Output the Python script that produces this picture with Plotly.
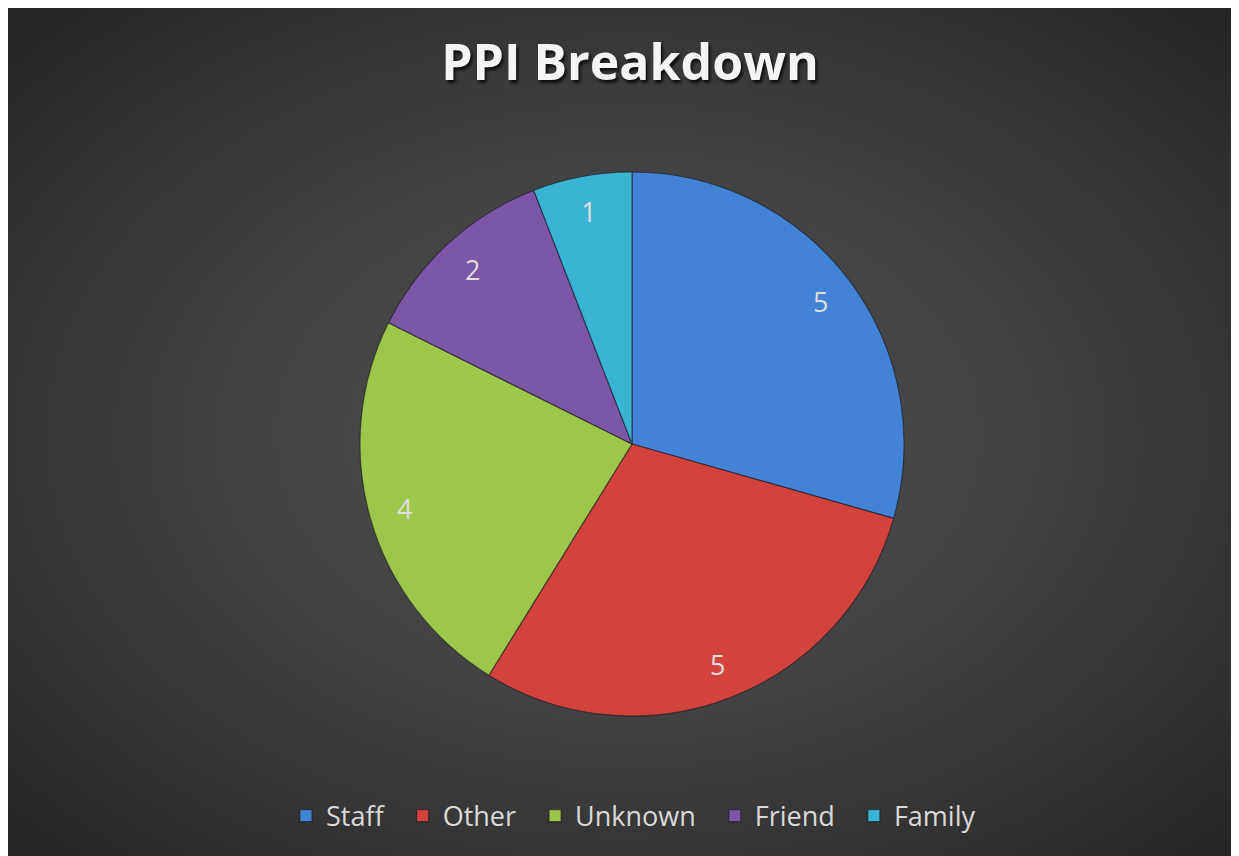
import base64
import numpy as np
import plotly.graph_objects as go

# ---- data ----
categories = ["Staff", "Other", "Unknown", "Friend", "Family"]
values = [5, 5, 4, 2, 1]
title_text = "PPI Breakdown"

# ---- styling ----
W, H = 1239, 856
colors = ["#4383d6", "#d3433e", "#9ec64c", "#7c57a6", "#39b4d3"]
label_color = "#dedede"
font_family = "Open Sans, Lato, DejaVu Sans, sans-serif"

# pie geometry (pixels, figure coordinates; page adds an 8px body margin)
cx, cy, R = 624, 436, 272
label_frac = 0.87

# radial gradient background as an SVG image
svg = f"""<svg xmlns='http://www.w3.org/2000/svg' width='{W}' height='{H}' viewBox='0 0 {W} {H}' preserveAspectRatio='none'>
<defs><radialGradient id='g' cx='50%' cy='50%' r='72%'>
<stop offset='0' stop-color='#4e4e4e'/>
<stop offset='0.45' stop-color='#424242'/>
<stop offset='1' stop-color='#232323'/>
</radialGradient></defs>
<rect width='100%' height='100%' fill='url(#g)'/></svg>"""
bg_uri = "data:image/svg+xml;base64," + base64.b64encode(svg.encode()).decode()

# legend entries get a little extra trailing room, like the original spacing
legend_labels = [c + "\u00a0\u00a0" for c in categories]

fig = go.Figure()
fig.add_trace(go.Pie(
    labels=legend_labels,
    values=values,
    customdata=categories,
    sort=False,
    direction="clockwise",
    rotation=0,
    textinfo="none",
    hovertemplate="%{customdata}: %{value}<extra></extra>",
    marker=dict(colors=colors, line=dict(color="rgba(20,20,30,0.55)", width=1.2)),
    domain=dict(x=[(cx - R) / W, (cx + R) / W], y=[(H - cy - R) / H, (H - cy + R) / H]),
    showlegend=True,
))

# data labels placed along each slice's mid-angle
vals = np.array(values, dtype=float)
cum = np.cumsum(vals)
mid = (cum - vals / 2) / vals.sum() * 2 * np.pi
for v, a in zip(values, mid):
    px = cx + label_frac * R * np.sin(a)
    py = cy - label_frac * R * np.cos(a)
    fig.add_annotation(
        x=px / W, y=1 - py / H, xref="paper", yref="paper",
        text=str(v), showarrow=False,
        font=dict(family=font_family, size=27, color=label_color),
        xanchor="center", yanchor="middle",
    )

fig.update_layout(
    width=W, height=H,
    margin=dict(l=0, r=0, t=0, b=0, autoexpand=False),
    paper_bgcolor="#333333",
    plot_bgcolor="rgba(0,0,0,0)",
    images=[dict(
        source=bg_uri, xref="paper", yref="paper",
        x=0, y=1, sizex=1, sizey=1,
        xanchor="left", yanchor="top", sizing="stretch", layer="below",
    )],
    title=dict(
        text=f"<b>{title_text}</b>",
        x=622 / W, xanchor="center", xref="paper",
        y=1 - 54 / H, yanchor="middle", yref="paper",
        font=dict(family=font_family, size=50, color="#f4f4f4",
                  shadow="2px 3px 3px rgba(0,0,0,0.75)"),
    ),
    legend=dict(
        orientation="h", x=632 / W, xanchor="center",
        y=1 - 808 / H, yanchor="middle",
        font=dict(family=font_family, size=27, color="#dadada"),
        bgcolor="rgba(0,0,0,0)",
    ),
)

fig.write_html("out.html")
